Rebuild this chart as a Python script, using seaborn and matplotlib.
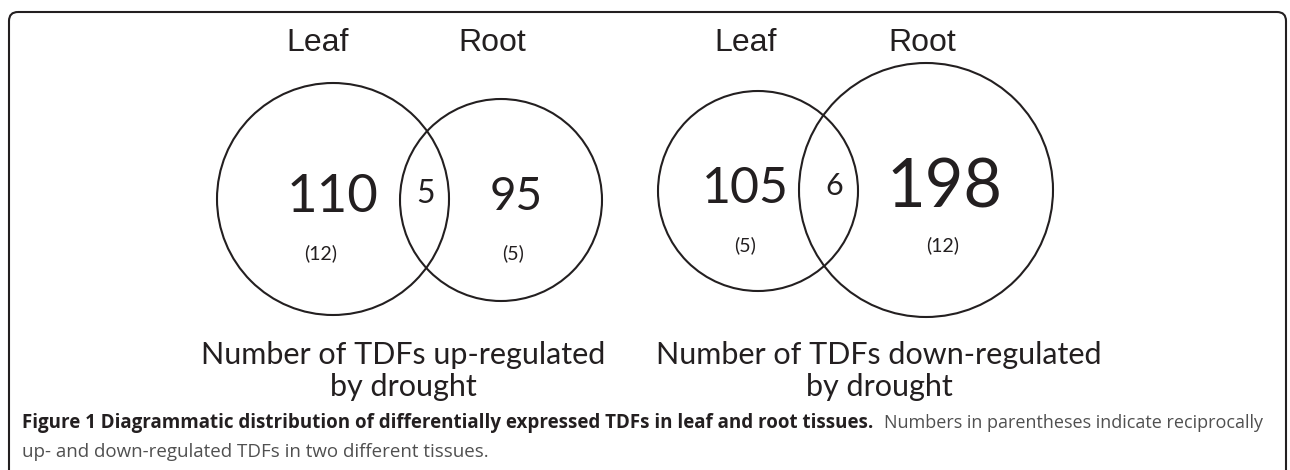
import matplotlib
matplotlib.use("Agg")
import matplotlib.pyplot as plt
import seaborn as sns
from matplotlib.patches import Circle, FancyBboxPatch

# ---- data ----
tissues = ["Leaf", "Root"]
up_only = [110, 95]
up_shared = 5
up_recip = [12, 5]
down_only = [105, 198]
down_shared = 6
down_recip = [5, 12]
panel_titles = ["Number of TDFs up-regulated\nby drought",
                "Number of TDFs down-regulated\nby drought"]
caption_bold = ("Figure 1 Diagrammatic distribution of differentially "
                "expressed TDFs in leaf and root tissues.")
caption_rest = "Numbers in parentheses indicate reciprocally"
caption_line2 = "up- and down-regulated TDFs in two different tissues."

sns.set_theme(style="white")
plt.rcParams["font.family"] = ["Lato", "DejaVu Sans"]

ink = "#231f20"
grey = "#505050"

fig = plt.figure(figsize=(12.9, 4.7), dpi=100)
ax = fig.add_axes([0, 0, 1, 1])
ax.set_xlim(0, 1290)
ax.set_ylim(470, 0)
ax.axis("off")

# frame round the figure
ax.add_patch(FancyBboxPatch((9, 12), 1277, 480,
                            boxstyle="round,pad=0,rounding_size=9",
                            fill=False, lw=1.5, ec=ink))

# layout of the two diagrams: (center x, center y, radius) per tissue
panels = [
    dict(only=up_only, shared=up_shared, recip=up_recip,
         circles=[(333, 199, 116), (501, 200, 101)],
         label_x=[318, 492], num_x=[333, 516], shared_x=426, num_y=197,
         sizes=[38, 33], shared_size=23, recip_x=[321, 513], recip_y=253,
         title_x=403),
    dict(only=down_only, shared=down_shared, recip=down_recip,
         circles=[(758, 191, 100), (926, 190, 127)],
         label_x=[746, 922], num_x=[745, 944], shared_x=834, num_y=189,
         sizes=[36, 48], shared_size=22, recip_x=[745, 943], recip_y=245,
         title_x=879),
]

for p, title in zip(panels, panel_titles):
    for (cx, cy, r) in p["circles"]:
        ax.add_patch(Circle((cx, cy), r, fill=False, lw=1.5, ec=ink))
    for i, name in enumerate(tissues):
        ax.text(p["label_x"][i], 43, name, ha="center", va="center",
                fontsize=23, color=ink, family=["Liberation Sans"])
        ax.text(p["num_x"][i], p["num_y"], str(p["only"][i]),
                ha="center", va="center", fontsize=p["sizes"][i], color=ink)
        ax.text(p["recip_x"][i], p["recip_y"], f"({p['recip'][i]})",
                ha="center", va="center", fontsize=14, color=ink)
    ax.text(p["shared_x"], p["num_y"] - 3, str(p["shared"]), ha="center",
            va="center", fontsize=p["shared_size"], color=ink)
    ax.text(p["title_x"], 371, title, ha="center", va="center",
            fontsize=22, color=ink, linespacing=1.16)

# caption, font size fitted to the width it takes in the figure
renderer = fig.canvas.get_renderer()


def fit_text(x, y, s, width, **kw):
    t = ax.text(x, y, s, ha="left", va="baseline", fontsize=12, **kw)
    w = t.get_window_extent(renderer).width
    t.set_fontsize(12 * width / w)
    return t


cap_font = ["Open Sans", "DejaVu Sans"]
fit_text(22, 428, caption_bold, 853, fontweight="bold", color=ink,
         family=cap_font)
fit_text(884, 428, caption_rest, 379, color=grey, family=cap_font)
fit_text(22, 457, caption_line2, 465, color=grey, family=cap_font)

fig.savefig("out.png", dpi=100)
